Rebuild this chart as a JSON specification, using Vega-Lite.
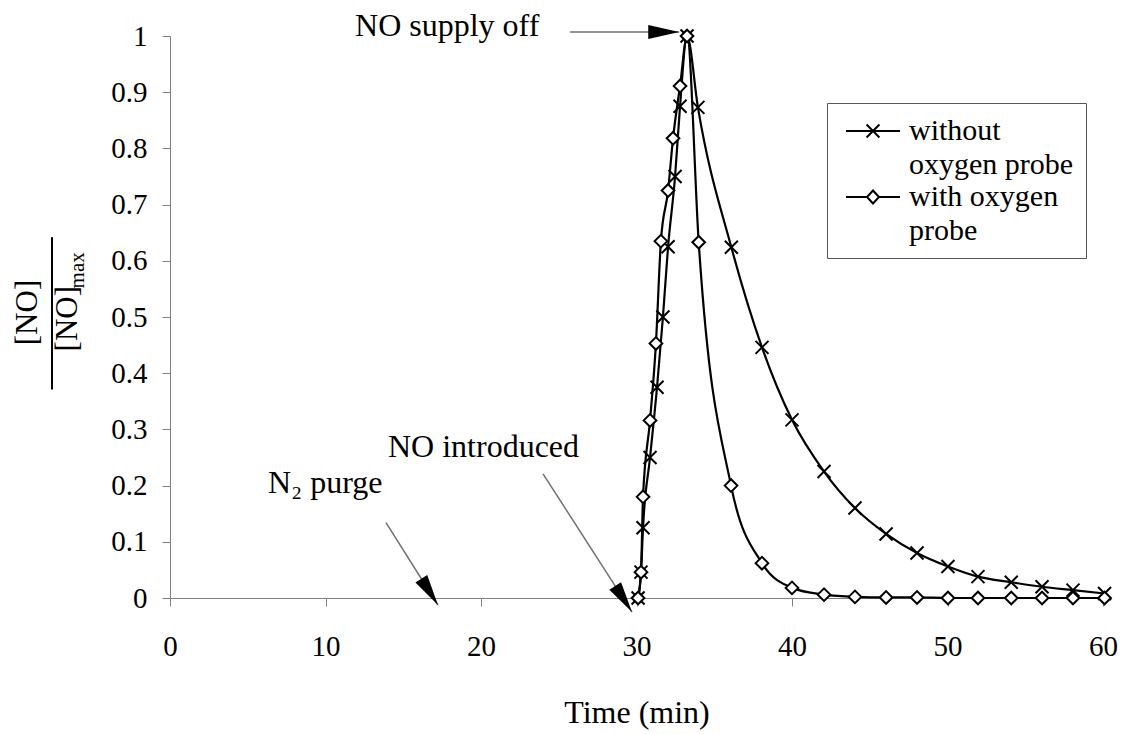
{
  "$schema": "https://vega.github.io/schema/vega-lite/v6.json",
  "width": 933,
  "height": 562,
  "autosize": {"type": "none"},
  "padding": {"left": 170, "top": 36, "right": 22, "bottom": 136},
  "background": "white",
  "config": {
    "font": "Liberation Serif",
    "view": {"stroke": null}
  },
  "datasets": {
    "curves": [
      {"series": "without oxygen probe", "t": 30.1, "y": 0},
      {"series": "without oxygen probe", "t": 30.29, "y": 0.046},
      {"series": "without oxygen probe", "t": 30.42, "y": 0.125},
      {"series": "without oxygen probe", "t": 30.87, "y": 0.25},
      {"series": "without oxygen probe", "t": 31.32, "y": 0.375},
      {"series": "without oxygen probe", "t": 31.7, "y": 0.5},
      {"series": "without oxygen probe", "t": 32.03, "y": 0.625},
      {"series": "without oxygen probe", "t": 32.48, "y": 0.75},
      {"series": "without oxygen probe", "t": 32.8, "y": 0.875},
      {"series": "without oxygen probe", "t": 33.25, "y": 1.0},
      {"series": "without oxygen probe", "t": 33.95, "y": 0.873},
      {"series": "without oxygen probe", "t": 36.1, "y": 0.624},
      {"series": "without oxygen probe", "t": 38.07, "y": 0.446},
      {"series": "without oxygen probe", "t": 40.0, "y": 0.317},
      {"series": "without oxygen probe", "t": 42.06, "y": 0.225},
      {"series": "without oxygen probe", "t": 44.05, "y": 0.16},
      {"series": "without oxygen probe", "t": 46.05, "y": 0.114},
      {"series": "without oxygen probe", "t": 48.04, "y": 0.08},
      {"series": "without oxygen probe", "t": 50.03, "y": 0.056},
      {"series": "without oxygen probe", "t": 51.96, "y": 0.038},
      {"series": "without oxygen probe", "t": 54.1, "y": 0.028},
      {"series": "without oxygen probe", "t": 56.08, "y": 0.02},
      {"series": "without oxygen probe", "t": 58.07, "y": 0.014},
      {"series": "without oxygen probe", "t": 60.1, "y": 0.008},
      {"series": "with oxygen probe", "t": 30.1, "y": 0},
      {"series": "with oxygen probe", "t": 30.29, "y": 0.046},
      {"series": "with oxygen probe", "t": 30.42, "y": 0.18},
      {"series": "with oxygen probe", "t": 30.87, "y": 0.316},
      {"series": "with oxygen probe", "t": 31.25, "y": 0.453},
      {"series": "with oxygen probe", "t": 31.57, "y": 0.635},
      {"series": "with oxygen probe", "t": 32.03, "y": 0.725},
      {"series": "with oxygen probe", "t": 32.35, "y": 0.818},
      {"series": "with oxygen probe", "t": 32.8, "y": 0.911},
      {"series": "with oxygen probe", "t": 33.25, "y": 1.0},
      {"series": "with oxygen probe", "t": 34.0, "y": 0.633},
      {"series": "with oxygen probe", "t": 36.08, "y": 0.2},
      {"series": "with oxygen probe", "t": 38.07, "y": 0.062},
      {"series": "with oxygen probe", "t": 40.0, "y": 0.018},
      {"series": "with oxygen probe", "t": 42.06, "y": 0.006},
      {"series": "with oxygen probe", "t": 44.05, "y": 0.002},
      {"series": "with oxygen probe", "t": 46.05, "y": 0.001},
      {"series": "with oxygen probe", "t": 48.04, "y": 0.001},
      {"series": "with oxygen probe", "t": 50.03, "y": 0},
      {"series": "with oxygen probe", "t": 51.96, "y": 0},
      {"series": "with oxygen probe", "t": 54.1, "y": 0},
      {"series": "with oxygen probe", "t": 56.08, "y": 0},
      {"series": "with oxygen probe", "t": 58.07, "y": 0},
      {"series": "with oxygen probe", "t": 60.1, "y": 0}
    ],
    "arrows": [
      {"name": "supply", "t": 32.75, "y": 1.007, "t2": 25.72, "y2": 1.007},
      {"name": "purge", "t": 17.23, "y": -0.0125, "t2": 13.89, "y2": 0.134},
      {"name": "introduced", "t": 29.71, "y": -0.025, "t2": 23.99, "y2": 0.221}
    ],
    "notes": [
      {"note": "NO supply off", "t": 11.9, "y": 1.017},
      {"note": "N₂ purge", "t": 6.3, "y": 0.205},
      {"note": "NO introduced", "t": 14.02, "y": 0.269}
    ],
    "fraction": [
      {"part": "numerator", "text": "[NO]", "t": -9.13, "y": 0.508, "y2": 0.508},
      {"part": "bar", "text": "", "t": -7.59, "y": 0.371, "y2": 0.642},
      {"part": "denominator", "text": "[NO]", "t": -6.56, "y": 0.497, "y2": 0.497},
      {"part": "subscript", "text": "max", "t": -5.92, "y": 0.583, "y2": 0.583}
    ]
  },
  "encoding": {
    "x": {
      "field": "t",
      "type": "quantitative",
      "title": "Time (min)",
      "scale": {"domain": [0, 60], "nice": false, "zero": false},
      "axis": {
        "values": [0, 10, 20, 30, 40, 50, 60],
        "grid": false,
        "domainColor": "#808080",
        "tickColor": "#808080",
        "tickSize": 8,
        "labelPadding": 26,
        "labelFont": "Liberation Serif",
        "labelFontSize": 29,
        "labelColor": "black",
        "labelFlush": false,
        "titleFont": "Liberation Serif",
        "titleFontSize": 32,
        "titleFontWeight": "normal",
        "titleColor": "black",
        "titlePadding": 36
      }
    },
    "y": {
      "field": "y",
      "type": "quantitative",
      "title": null,
      "scale": {"domain": [0, 1], "nice": false, "zero": false},
      "axis": {
        "values": [0, 0.1, 0.2, 0.3, 0.4, 0.5, 0.6, 0.7, 0.8, 0.9, 1],
        "format": "~g",
        "grid": false,
        "domainColor": "#808080",
        "tickColor": "#808080",
        "tickSize": 8,
        "labelPadding": 15,
        "labelFont": "Liberation Serif",
        "labelFontSize": 29,
        "labelColor": "black",
        "labelFlush": false
      }
    }
  },
  "layer": [
    {
      "data": {"name": "curves"},
      "mark": {"type": "line", "interpolate": "monotone", "strokeWidth": 2.2},
      "encoding": {
        "stroke": {
          "field": "series",
          "type": "nominal",
          "scale": {"domain": ["without oxygen probe", "with oxygen probe"], "range": ["black", "black"]},
          "legend": {
            "orient": "none",
            "legendX": 657,
            "legendY": 67,
            "title": null,
            "strokeColor": "#555555",
            "fillColor": "white",
            "padding": 12,
            "labelFont": "Liberation Serif",
            "labelFontSize": 30,
            "labelColor": "black",
            "labelLimit": 400,
            "labelOffset": 38,
            "rowPadding": 1,
            "symbolSize": 900,
            "symbolStrokeWidth": 2,
            "symbolStrokeColor": "black",
            "symbolFillColor": "white",
            "labelExpr": "datum.label == 'without oxygen probe' ? ['without', 'oxygen probe'] : ['with oxygen', 'probe']",
            "encode": {
              "symbols": {
                "update": {
                  "shape": {"signal": "datum.value == 'without oxygen probe' ? 'M-0.6,0L3,0M0.77,-0.43L1.63,0.43M0.77,0.43L1.63,-0.43' : 'M-0.6,0L0.8,0M1.6,0L3,0M1.2,-0.43L1.6,0L1.2,0.43L0.8,0Z'"}
                }
              },
              "labels": {"update": {"lineHeight": {"value": 34}}}
            }
          }
        }
      }
    },
    {
      "data": {"name": "curves"},
      "transform": [{"filter": "datum.series == 'without oxygen probe'"}],
      "mark": {"type": "point", "shape": "M-1,-1L1,1M-1,1L1,-1", "filled": false, "stroke": "black", "strokeWidth": 2, "size": 169, "opacity": 1}
    },
    {
      "data": {"name": "curves"},
      "transform": [{"filter": "datum.series == 'with oxygen probe'"}],
      "mark": {"type": "point", "shape": "diamond", "filled": true, "fill": "white", "stroke": "black", "strokeWidth": 2, "size": 160, "opacity": 1}
    },
    {
      "data": {"name": "arrows"},
      "mark": {"type": "rule", "stroke": "#707070", "strokeWidth": 1.5},
      "encoding": {
        "x2": {"field": "t2"},
        "y2": {"field": "y2"}
      }
    },
    {
      "data": {"name": "arrows"},
      "transform": [{"filter": "datum.name == 'supply'"}],
      "mark": {"type": "point", "shape": "M0,0L-0.45,2L0.45,2Z", "filled": true, "fill": "black", "strokeWidth": 0, "size": 961, "angle": 90, "opacity": 1}
    },
    {
      "data": {"name": "arrows"},
      "transform": [{"filter": "datum.name == 'purge'"}],
      "mark": {"type": "point", "shape": "M0,0L-0.45,2L0.45,2Z", "filled": true, "fill": "black", "strokeWidth": 0, "size": 961, "angle": 147.6, "opacity": 1}
    },
    {
      "data": {"name": "arrows"},
      "transform": [{"filter": "datum.name == 'introduced'"}],
      "mark": {"type": "point", "shape": "M0,0L-0.45,2L0.45,2Z", "filled": true, "fill": "black", "strokeWidth": 0, "size": 961, "angle": 147.2, "opacity": 1}
    },
    {
      "data": {"name": "notes"},
      "mark": {"type": "text", "align": "left", "baseline": "middle", "font": "Liberation Serif", "fontSize": 32, "color": "black"},
      "encoding": {"text": {"field": "note"}}
    },
    {
      "data": {"name": "fraction"},
      "transform": [{"filter": "datum.part == 'numerator' || datum.part == 'denominator'"}],
      "mark": {"type": "text", "align": "center", "baseline": "middle", "angle": 270, "font": "Liberation Serif", "fontSize": 31, "color": "black"},
      "encoding": {"text": {"field": "text"}}
    },
    {
      "data": {"name": "fraction"},
      "transform": [{"filter": "datum.part == 'subscript'"}],
      "mark": {"type": "text", "align": "center", "baseline": "middle", "angle": 270, "font": "Liberation Serif", "fontSize": 21, "color": "black"},
      "encoding": {"text": {"field": "text"}}
    },
    {
      "data": {"name": "fraction"},
      "transform": [{"filter": "datum.part == 'bar'"}],
      "mark": {"type": "rule", "stroke": "black", "strokeWidth": 2},
      "encoding": {"y2": {"field": "y2"}}
    }
  ]
}
